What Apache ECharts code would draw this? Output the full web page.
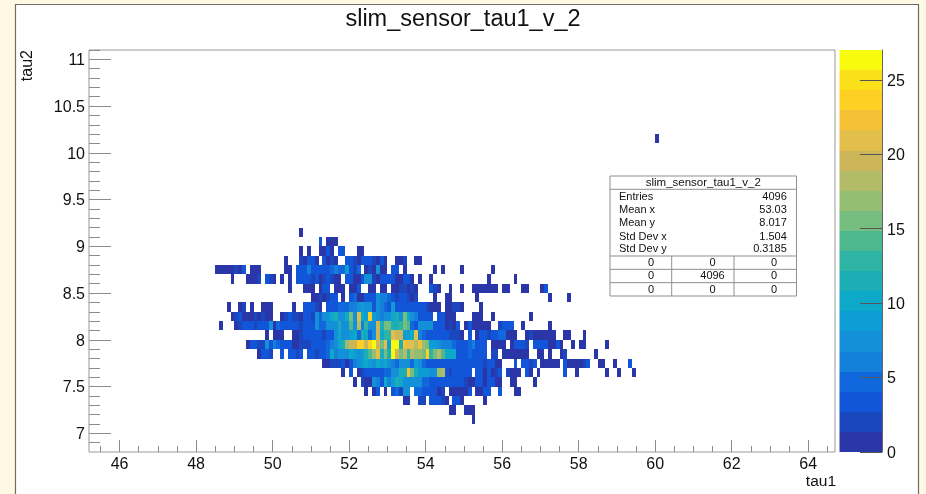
<!DOCTYPE html>
<html><head><meta charset="utf-8">
<style>html,body{margin:0;padding:0;background:#FFF8E4}#c{width:926px;height:494px}</style>
<script src="https://cdn.jsdelivr.net/npm/echarts@6/dist/echarts.min.js"></script>
</head><body><div id="c"></div>
<script>
const chartTitle = 'slim_sensor_tau1_v_2';
const xTitle = 'tau1', yTitle = 'tau2';
const xMin = 45.2, xMax = 64.7, yMin = 6.8, yMax = 11.1, binSize = 0.1, zMax = 27;
const xMajor = [46,48,50,52,54,56,58,60,62,64];
const xMinor = [45.5,46.5,47,47.5,48.5,49,49.5,50.5,51,51.5,52.5,53,53.5,54.5,55,55.5,56.5,57,57.5,58.5,59,59.5,60.5,61,61.5,62.5,63,63.5,64.5];
const yMajor = [7,7.5,8,8.5,9,9.5,10,10.5,11];
const yMinor = [6.9,7.1,7.2,7.3,7.4,7.6,7.7,7.8,7.9,8.1,8.2,8.3,8.4,8.6,8.7,8.8,8.9,9.1,9.2,9.3,9.4,9.6,9.7,9.8,9.9,10.1,10.2,10.3,10.4,10.6,10.7,10.8,10.9,11.1];
const zTicks = [0,5,10,15,20,25];
const palette = ['#2A36A8','#1A46BE','#1156D8','#1068DC','#1480DA','#1490D8','#0E9CD4','#0EA8C9','#1CADB6','#2FB3A4','#4DB88E','#76BE80','#96BE72','#B2BB66','#CDB65A','#E2BE4B','#F5C035','#FFD024','#FAE018','#F9FB0E'];

// first tau1 bin edge of each row, then counts per 0.1 tau1 bin
const row_10_1 = {x:60.0, n:[1]};
const row_9_1 = {x:50.7, n:[1]};
const row_9_0 = {x:51.2, n:[3,0,1,1,1]};
const row_8_9 = {x:50.7, n:[1,0,1,0,0,1,1,3,1,0,4,4,0,0,0,1,1]};
const row_8_8 = {x:50.3, n:[1,0,0,0,2,1,4,3,1,0,4,1,2,1,0,0,4,3,2,1,3,3,4,2,1,3,1,0,0,1,1,2,0,0,1,1]};
const row_8_7 = {x:48.5, n:[1,1,1,1,1,2,1,4,0,1,1,1,0,0,0,0,0,0,1,1,0,3,4,4,6,4,3,3,4,4,5,6,5,5,9,3,2,5,0,1,2,1,7,1,1,0,3,3,0,1,0,0,0,0,0,0,0,1,0,1,0,0,0,0,1,0,0,0,0,0,0,0,1]};
const row_8_6 = {x:48.9, n:[1,0,0,0,1,1,1,2,0,4,2,1,0,1,0,1,0,3,4,4,4,2,3,1,2,3,2,1,1,0,3,3,1,1,3,8,7,2,1,4,4,4,4,1,1,3,3,1,0,1,0,0,1,0,0,0,0,0,0,0,0,0,0,0,0,0,0,1,0,0,0,0,0,0,1]};
const row_8_5 = {x:50.4, n:[1,0,0,0,1,1,1,0,1,3,3,0,1,1,1,0,1,1,3,0,0,1,1,0,1,1,0,1,1,2,2,1,2,1,0,0,0,3,2,1,0,0,1,0,0,1,0,0,1,1,1,1,1,1,1,0,1,1,0,0,0,1,1,0,0,0,1,3]};
const row_8_4 = {x:51.0, n:[1,1,2,1,2,4,3,0,1,0,4,5,1,1,3,3,4,8,6,6,5,3,2,3,3,2,1,2,0,0,0,0,1,0,0,1,1,0,0,0,0,0,0,1,0,0,0,0,0,0,0,0,0,0,0,0,0,0,0,0,0,0,1,0,0,0,0,1]};
const row_8_3 = {x:48.8, n:[1,0,0,1,2,0,1,0,0,1,1,1,0,0,0,0,0,1,0,0,3,3,3,2,1,0,4,4,4,5,5,5,6,6,8,9,8,8,4,8,6,5,4,9,3,3,3,4,4,4,3,3,2,1,1,1,0,1,1,2,2,1,0,0,0,0,1]};
const row_8_2 = {x:48.9, n:[1,2,3,1,1,1,2,1,2,1,1,0,0,1,2,3,2,2,1,3,3,2,7,5,8,8,10,12,8,8,10,16,8,21,10,9,24,9,7,6,8,8,10,11,7,15,10,7,6,4,4,4,3,0,3,3,1,1,1,0,0,0,0,1,1,1,0,0,1,0,0,0,0,0,0,0,0,0,1]};
const row_8_1 = {x:48.6, n:[1,0,0,0,1,2,4,4,3,2,3,3,3,7,1,5,3,3,3,4,3,2,3,4,4,8,5,5,8,8,7,12,8,8,14,8,18,6,13,8,8,19,12,15,15,12,11,13,16,14,5,4,7,7,8,8,4,4,4,1,2,1,3,0,1,3,1,1,1,1,1,0,0,2,3,3,3,0,0,1,0,0,0,0,0,0,1]};
const row_8_0 = {x:49.8, n:[1,0,1,1,1,0,0,1,1,2,3,4,4,4,3,2,4,3,8,10,8,7,9,10,5,11,10,5,8,19,10,13,13,21,20,20,9,9,10,21,6,5,4,3,4,3,3,3,2,2,2,1,0,3,0,1,3,3,2,4,4,5,5,1,1,1,0,0,1,2,1,1,1,1,1,1,0,0,1,1,0,0,0,1]};
const row_7_9 = {x:49.3, n:[1,3,3,2,2,8,4,6,5,3,3,3,1,1,2,2,2,4,3,4,4,5,6,7,10,12,17,20,20,23,23,19,24,27,20,15,21,9,27,26,11,22,21,21,18,22,17,15,9,9,8,6,6,6,5,3,3,4,5,6,4,4,4,0,1,1,1,1,0,1,3,3,3,2,0,3,3,3,3,1,1,3,1,0,0,1,0,1,1,0,0,0,0,0,1]};
const row_7_8 = {x:49.6, n:[1,3,3,2,0,0,3,0,3,3,2,4,0,3,3,2,3,4,5,10,6,7,8,8,10,9,7,9,12,14,17,21,12,16,11,26,19,15,18,13,18,17,17,16,24,13,15,18,14,10,10,10,3,4,4,5,4,4,4,4,0,2,2,0,1,1,1,1,1,1,1,0,0,1,1,0,1,0,0,1,2,0,0,0,0,0,0,0,1]};
const row_7_7 = {x:51.3, n:[1,1,2,2,2,3,1,4,6,8,9,10,9,8,10,9,10,8,6,5,7,8,7,5,9,8,5,4,3,4,3,4,4,4,3,4,4,4,4,4,3,3,2,4,4,1,1,0,0,0,3,0,4,4,2,3,0,1,1,1,1,1,0,3,1,1,1,1,2,4,0,0,1,1,0,0,1,0,0,0,3]};
const row_7_6 = {x:51.8, n:[1,0,3,0,1,2,3,3,3,3,3,5,5,7,7,12,11,22,15,11,9,9,9,8,7,17,18,4,2,3,3,3,3,3,0,3,3,1,3,1,2,3,0,2,1,1,1,0,3,1,0,1,0,0,0,0,0,0,3,0,0,1,0,0,0,0,0,0,0,1,0,0,1,0,0,0,1]};
const row_7_5 = {x:52.1, n:[1,0,2,1,1,7,6,3,10,6,9,12,10,7,7,7,7,7,5,5,3,3,3,4,4,3,3,3,3,2,1,1,3,3,1,3,3,1,1,0,0,1,1,0,0,0,0,1]};
const row_7_4 = {x:52.4, n:[1,0,1,3,0,1,0,3,5,2,7,7,0,5,5,4,3,3,3,1,2,0,1,1,1,1,1,3,0,1,1,3,3,0,0,3,0,0,0,1,1]};
const row_7_3 = {x:53.4, n:[1,1,0,0,2,2,0,3,3,3,2,1,0,3,3,1,0,0,0,0,0,1]};
const row_7_2 = {x:54.6, n:[1,1,0,0,1,1,1]};
const row_7_1 = {x:55.2, n:[1]};
const tau2Rows = [[10.1,row_10_1],[9.1,row_9_1],[9.0,row_9_0],[8.9,row_8_9],[8.8,row_8_8],[8.7,row_8_7],[8.6,row_8_6],[8.5,row_8_5],[8.4,row_8_4],[8.3,row_8_3],[8.2,row_8_2],[8.1,row_8_1],[8.0,row_8_0],[7.9,row_7_9],[7.8,row_7_8],[7.7,row_7_7],[7.6,row_7_6],[7.5,row_7_5],[7.4,row_7_4],[7.3,row_7_3],[7.2,row_7_2],[7.1,row_7_1]];

const statLabels = ['Entries','Mean x','Mean y','Std Dev x','Std Dev y'];
const statValues = ['4096','53.03','8.017','1.504','0.3185'];
const statGrid = [['0','0','0'],['0','4096','0'],['0','0','0']];

const cells = [];
tau2Rows.forEach(([y, row]) => row.n.forEach((c, i) => { if (c > 0) cells.push([row.x + i * binSize, y, c]); }));
const bandSize = zMax / palette.length;
const bands = palette.map((_, i) => [i * bandSize, i]);

const sans = '"Liberation Sans", Arial, sans-serif';
const frameColor = '#999999', tickColor = '#8c8c8c';
const labelStyle = {fontFamily: sans, fontSize: 16, color: '#111'};

function renderCell(params, api) {
  const x = api.value(0), y = api.value(1);
  const a = api.coord([x, y + binSize]), b = api.coord([x + binSize, y]);
  const x0 = Math.round(a[0]), y0 = Math.round(a[1]), x1 = Math.round(b[0]), y1 = Math.round(b[1]);
  const col = palette[Math.min(palette.length - 1, Math.floor(api.value(2) / bandSize))];
  return {type: 'rect', shape: {x: x0, y: y0, width: x1 - x0, height: y1 - y0},
          style: {fill: col}};
}
function renderBand(params, api) {
  const low = api.value(0);
  const a = api.coord([0, low + bandSize]), b = api.coord([1, low]);
  return {type: 'rect', shape: {x: a[0], y: Math.round(a[1]), width: b[0] - a[0], height: Math.round(b[1]) - Math.round(a[1])},
          style: {fill: palette[api.value(1)]}};
}

// stats box pieces
const bx = 610, by = 176, bw = 186.5, titleBottom = 189.3, statBottom = 256, rowH = 13.33;
const colX = [671.7, 734], colC = [651, 712.5, 774];
const statYs = [196.5, 209.8, 222.5, 236.5, 249];
const line = (x1,y1,x2,y2,c='#8f8f8f',w=1) => ({type:'line',z:20,silent:true,shape:{x1,y1,x2,y2},style:{stroke:c,lineWidth:w}});
const txt = (x,y,t,align,fs=11) => ({type:'text',z:21,silent:true,x,y,style:{text:t,fill:'#111',font:fs+'px '+sans,textAlign:align,textVerticalAlign:'middle'}});
const boxEls = [
  {type:'rect',z:19,silent:true,shape:{x:bx,y:by,width:bw,height:120},style:{fill:'#fff',stroke:'#8f8f8f',lineWidth:1}},
  line(bx,titleBottom,bx+bw,titleBottom),
  line(bx,statBottom,bx+bw,statBottom),
  line(bx,statBottom+rowH,bx+bw,statBottom+rowH),
  line(bx,statBottom+2*rowH,bx+bw,statBottom+2*rowH),
  line(colX[0],statBottom,colX[0],by+120),
  line(colX[1],statBottom,colX[1],by+120),
  txt(bx+bw/2,182.5,chartTitle,'center',11.5),
  ...statLabels.map((s,i)=>txt(619,statYs[i],s,'left')),
  ...statValues.map((s,i)=>txt(786.8,statYs[i],s,'right')),
  ...statGrid.flatMap((r,j)=>r.map((s,i)=>txt(colC[i],statBottom+7+j*rowH,s,'center')))
];

const chart = echarts.init(document.getElementById('c'), null, {renderer:'canvas'});
chart.setOption({
  animation: false,
  backgroundColor: '#FFF8E4',
  title: {text: chartTitle, left: 'center', top: 3, textStyle: {fontFamily: sans, fontSize: 23.5, fontWeight: 'normal', color: '#111'}},
  graphic: [
    {type:'rect',z:-10,silent:true,shape:{x:15.5,y:4.5,width:903,height:495},style:{fill:'#fff',stroke:'#6f6e62',lineWidth:1.2}},
    ...boxEls
  ],
  grid: [
    {left: 89, top: 50, width: 746, height: 402, show: true, backgroundColor: '#fff', borderColor: frameColor, borderWidth: 1, containLabel: false},
    {left: 839.5, top: 50, width: 42.5, height: 402, containLabel: false}
  ],
  xAxis: [
    {type:'value', gridIndex:0, min:xMin, max:xMax, position:'bottom', name:xTitle, nameLocation:'end', nameGap:0,
     nameTextStyle:{fontFamily:sans,fontSize:15.5,color:'#111',align:'right',verticalAlign:'top',padding:[22,-1,0,0]},
     axisLine:{show:false}, splitLine:{show:false},
     axisTick:{show:true,inside:true,length:12,customValues:xMajor,lineStyle:{color:tickColor,width:1}},
     axisLabel:{show:true,customValues:xMajor,margin:5,formatter:v=>String(v),...labelStyle}},
    {type:'value', gridIndex:0, min:xMin, max:xMax, position:'bottom',
     axisLine:{show:false}, splitLine:{show:false},
     axisTick:{show:true,inside:true,length:6,customValues:xMinor,lineStyle:{color:tickColor,width:1}},
     axisLabel:{show:false}},
    {type:'value', gridIndex:1, min:0, max:1, show:false}
  ],
  yAxis: [
    {type:'value', gridIndex:0, min:yMin, max:yMax, position:'left', name:yTitle, nameLocation:'end', nameGap:0, nameRotate:90,
     nameTextStyle:{fontFamily:sans,fontSize:16,color:'#111',align:'right',verticalAlign:'bottom',padding:[0,0,53,0]},
     axisLine:{show:false}, splitLine:{show:false},
     axisTick:{show:true,inside:true,length:22,customValues:yMajor,lineStyle:{color:tickColor,width:1}},
     axisLabel:{show:true,customValues:yMajor,margin:4,verticalAlign:'top',lineHeight:3,formatter:v=>String(v),...labelStyle}},
    {type:'value', gridIndex:0, min:yMin, max:yMax, position:'left',
     axisLine:{show:false}, splitLine:{show:false},
     axisTick:{show:true,inside:true,length:11,customValues:yMinor,lineStyle:{color:tickColor,width:1}},
     axisLabel:{show:false}},
    {type:'value', gridIndex:1, min:0, max:zMax, position:'right',
     axisLine:{show:true,onZero:false,lineStyle:{color:'#666',width:1}}, splitLine:{show:false},
     axisTick:{show:true,inside:true,length:22,customValues:zTicks,lineStyle:{color:'#555',width:1}},
     axisLabel:{show:true,customValues:zTicks,margin:5,verticalAlign:'top',lineHeight:3,...labelStyle},
     z:5}
  ],
  series: [
    {type:'custom', xAxisIndex:0, yAxisIndex:0, coordinateSystem:'cartesian2d', renderItem:renderCell, data:cells, encode:{x:0,y:1}, silent:true, z:3, clip:true},
    {type:'custom', xAxisIndex:2, yAxisIndex:2, coordinateSystem:'cartesian2d', renderItem:renderBand, data:bands, encode:{y:0}, silent:true, z:1}
  ]
});
</script></body></html>
